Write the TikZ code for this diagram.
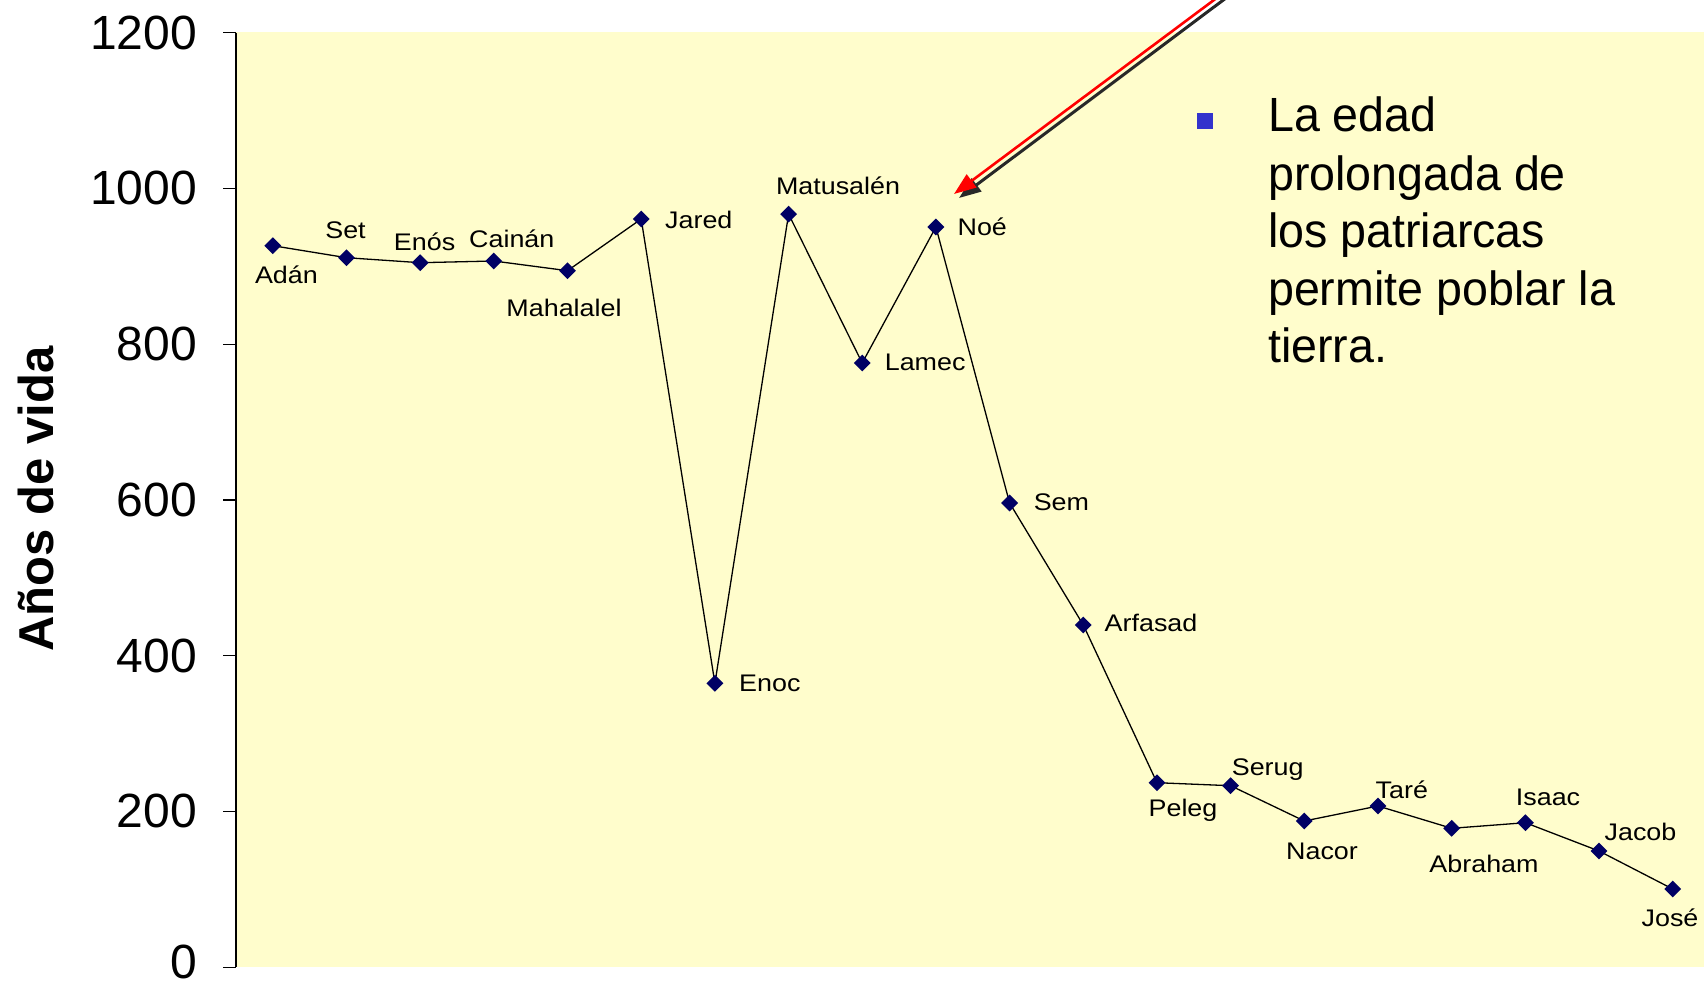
\documentclass[tikz,border=0pt]{standalone}
\usepackage{fontspec}
\setmainfont{Liberation Sans}
\newfontfamily\labelfont[FakeStretch=1.12]{Liberation Sans}
\newfontfamily\bodyfont[FakeStretch=0.97]{Liberation Sans}
\usetikzlibrary{shapes.geometric,arrows.meta}
\definecolor{bgyellow}{RGB}{255,253,204}
\definecolor{marknavy}{RGB}{0,0,100}
\definecolor{bulletblue}{RGB}{51,51,204}
\definecolor{shadowgray}{RGB}{40,40,40}
\begin{document}
\begin{tikzpicture}[x=1pt,y=-1pt,
  ptmark/.style={diamond, fill=marknavy, inner sep=0pt, minimum width=17pt, minimum height=17pt},
  ptlabel/.style={font=\labelfont\fontsize{24}{28}\selectfont, inner sep=0pt},
  ticklabel/.style={font=\fontsize{48}{54}\selectfont, anchor=east, inner sep=0pt},
  bodyline/.style={font=\bodyfont\fontsize{48}{56}\selectfont, anchor=base west, inner sep=0pt},
  dataline/.style={draw=black, line width=1.3pt, line join=round},
  axisline/.style={draw=black, line width=1.4pt},
]
\useasboundingbox (0,0) rectangle (1704,987);
\clip (0,0) rectangle (1704,987);
\fill[bgyellow] (236,32) rectangle (1704,967);

% axis
\draw[axisline] (236,32.6) -- (236,967.2);
\foreach \v/\y in {0/967.2,200/811.4,400/655.7,600/500,800/344.2,1000/188.4,1200/32.6}{
  \draw[axisline] (223,\y) -- (236,\y);
}
\node[ticklabel] (t0) at (197,962) {0};
\node[ticklabel] (t200) at (197,811.4) {200};
\node[ticklabel] (t400) at (197,655.7) {400};
\node[ticklabel] (t600) at (197,500) {600};
\node[ticklabel] (t800) at (197,344.2) {800};
\node[ticklabel] (t1000) at (197,188.4) {1000};
\node[ticklabel] (t1200) at (197,32.6) {1200};
\node[rotate=90, font=\bfseries\fontsize{49}{56}\selectfont, inner sep=0pt] (ylab) at (36,499) {Años de vida};

% data points
\coordinate (p1) at (272.8,245.7);
\coordinate (p2) at (346.5,257.7);
\coordinate (p3) at (420.2,262.7);
\coordinate (p4) at (493.8,261);
\coordinate (p5) at (567.5,270.7);
\coordinate (p6) at (641.2,219);
\coordinate (p7) at (714.9,683.3);
\coordinate (p8) at (788.6,214.1);
\coordinate (p9) at (862.2,363);
\coordinate (p10) at (935.9,227);
\coordinate (p11) at (1009.6,503);
\coordinate (p12) at (1083.3,625);
\coordinate (p13) at (1157,782.7);
\coordinate (p14) at (1230.6,785.7);
\coordinate (p15) at (1304.3,821);
\coordinate (p16) at (1378,806);
\coordinate (p17) at (1451.7,828.3);
\coordinate (p18) at (1525.4,822.7);
\coordinate (p19) at (1599,851);
\coordinate (p20) at (1672.7,889);

\draw[dataline] (p1) -- (p2) -- (p3) -- (p4) -- (p5) -- (p6) -- (p7) -- (p8) -- (p9) -- (p10)
  -- (p11) -- (p12) -- (p13) -- (p14) -- (p15) -- (p16) -- (p17) -- (p18) -- (p19) -- (p20);

\foreach \i in {1,...,20}{
  \node[ptmark] (m\i) at (p\i) {};
}

% labels
\node[ptlabel] (lAdan) at (286.4,275) {Adán};
\node[ptlabel] (lSet) at (345.5,230) {Set};
\node[ptlabel] (lEnos) at (424.6,241.7) {Enós};
\node[ptlabel] (lCainan) at (511.8,239) {Cainán};
\node[ptlabel] (lMahalalel) at (564,308.3) {Mahalalel};
\node[ptlabel, anchor=west] (lJared) at (665,220) {Jared};
\node[ptlabel, anchor=west] (lEnoc) at (739,683.3) {Enoc};
\node[ptlabel] (lMatusalen) at (838,185.8) {Matusalén};
\node[ptlabel, anchor=west] (lLamec) at (884.6,362) {Lamec};
\node[ptlabel, anchor=west] (lNoe) at (957.4,227) {Noé};
\node[ptlabel, anchor=west] (lSem) at (1033.6,502) {Sem};
\node[ptlabel, anchor=west] (lArfasad) at (1104.5,623) {Arfasad};
\node[ptlabel] (lPeleg) at (1183,810) {Peleg};
\node[ptlabel] (lSerug) at (1267.7,770) {Serug};
\node[ptlabel] (lNacor) at (1322,851.7) {Nacor};
\node[ptlabel] (lTare) at (1401.8,790) {Taré};
\node[ptlabel] (lAbraham) at (1484,864) {Abraham};
\node[ptlabel] (lIsaac) at (1548,797.7) {Isaac};
\node[ptlabel] (lJacob) at (1640.5,832) {Jacob};
\node[ptlabel] (lJose) at (1670,918) {José};

% bullet text
\fill[bulletblue] (1197,113) rectangle (1213,129);
\node[bodyline] (b1) at (1268,132) {La edad};
\node[bodyline] (b2) at (1268,190) {prolongada de};
\node[bodyline] (b3) at (1268,247) {los patriarcas};
\node[bodyline] (b4) at (1268,305) {permite poblar la};
\node[bodyline] (b5) at (1268,362) {tierra.};

% arrow
\coordinate (astart) at (1222,-6);
\coordinate (atip) at (954,194);
\coordinate (sstart) at (1226,-2);
\coordinate (stip) at (959,198);
\draw[shadowgray, line width=3pt, -{Triangle[length=22pt,width=16pt]}] (sstart) -- (stip);
\draw[red, line width=2.6pt, -{Triangle[length=22pt,width=16pt]}] (astart) -- (atip);
\end{tikzpicture}
\end{document}
